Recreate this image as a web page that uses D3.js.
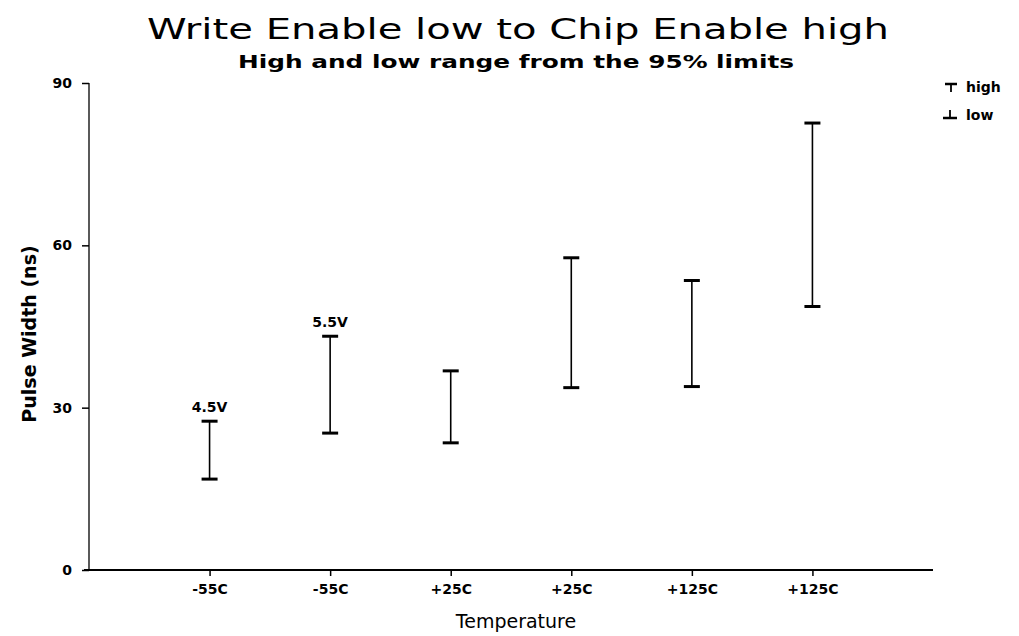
<!DOCTYPE html>
<html><head><meta charset="utf-8">
<script src="https://cdn.jsdelivr.net/npm/d3@7"></script>
<style>body{margin:0;background:#fff}svg{display:block}</style>
</head><body>
<svg id="c" width="1019" height="636"></svg>
<script>
const categories = ["-55C", "-55C", "+25C", "+25C", "+125C", "+125C"];
const highValues = [27.5, 43.2, 36.8, 57.7, 53.5, 82.6];
const lowValues  = [16.8, 25.3, 23.5, 33.7, 33.9, 48.7];
const barLabels  = ["4.5V", "5.5V", "", "", "", ""];
const yTicks = [0, 30, 60, 90];

const svg = d3.select("#c");
const x = d3.scaleLinear().domain([0, categories.length + 1]).range([89, 933]);
const y = d3.scaleLinear().domain([0, 90]).range([570, 83]);

// title
svg.append("text").attr("x", 518).attr("y", 39).attr("text-anchor", "middle")
  .attr("font-family", "DejaVu Sans").attr("font-size", 28)
  .attr("textLength", 742).attr("lengthAdjust", "spacingAndGlyphs")
  .text("Write Enable low to Chip Enable high");
svg.append("text").attr("x", 516).attr("y", 68).attr("text-anchor", "middle")
  .attr("font-family", "DejaVu Sans").attr("font-size", 17).attr("font-weight", "bold")
  .attr("textLength", 556).attr("lengthAdjust", "spacingAndGlyphs")
  .text("High and low range from the 95% limits");

// y axis
const yAxis = d3.axisLeft(y).tickValues(yTicks).tickSize(7).tickPadding(10);
const gy = svg.append("g").attr("transform", "translate(89,0)").call(yAxis);
gy.selectAll("text").attr("font-family", "DejaVu Sans").attr("font-size", 14).attr("font-weight", "bold").attr("fill", "#000");
gy.select(".domain").attr("stroke", "#000").attr("stroke-width", 1.3).attr("d", "M0,83V570");
gy.selectAll("line").attr("stroke", "#000").attr("stroke-width", 1.5);

// x axis
const xAxis = d3.axisBottom(x).tickValues(d3.range(1, categories.length + 1))
  .tickFormat(i => categories[i - 1]).tickSize(6).tickPadding(8);
const gx = svg.append("g").attr("transform", "translate(0,570)").call(xAxis);
gx.selectAll("text").attr("font-family", "DejaVu Sans").attr("font-size", 14).attr("font-weight", "bold").attr("fill", "#000");
gx.select(".domain").attr("stroke", "#000").attr("stroke-width", 1.8).attr("d", "M84,0H933");
gx.selectAll("line").attr("stroke", "#000").attr("stroke-width", 1.5);

// axis titles
svg.append("text").attr("transform", "translate(36,334) rotate(-90)").attr("text-anchor", "middle")
  .attr("font-family", "DejaVu Sans").attr("font-size", 19).attr("font-weight", "bold")
  .text("Pulse Width (ns)");
svg.append("text").attr("x", 516).attr("y", 628).attr("text-anchor", "middle")
  .attr("font-family", "DejaVu Sans").attr("font-size", 19)
  .text("Temperature");

// error bars
const data = categories.map((c, i) => ({i: i + 1, hi: highValues[i], lo: lowValues[i], lab: barLabels[i]}));
const g = svg.append("g");
g.selectAll("line.v").data(data).join("line")
  .attr("x1", d => x(d.i)).attr("x2", d => x(d.i))
  .attr("y1", d => y(d.hi)).attr("y2", d => y(d.lo))
  .attr("stroke", "#000").attr("stroke-width", 1.6);
g.selectAll("line.h").data(data).join("line")
  .attr("x1", d => x(d.i) - 8).attr("x2", d => x(d.i) + 8)
  .attr("y1", d => y(d.hi)).attr("y2", d => y(d.hi))
  .attr("stroke", "#000").attr("stroke-width", 3);
g.selectAll("line.l").data(data).join("line")
  .attr("x1", d => x(d.i) - 8).attr("x2", d => x(d.i) + 8)
  .attr("y1", d => y(d.lo)).attr("y2", d => y(d.lo))
  .attr("stroke", "#000").attr("stroke-width", 3);
g.selectAll("text").data(data.filter(d => d.lab)).join("text")
  .attr("x", d => x(d.i)).attr("y", d => y(d.hi) - 9).attr("text-anchor", "middle")
  .attr("font-family", "DejaVu Sans").attr("font-size", 14).attr("font-weight", "bold")
  .text(d => d.lab);

// legend
const lg = svg.append("g");
lg.append("line").attr("x1", 945).attr("x2", 957).attr("y1", 84).attr("y2", 84).attr("stroke", "#000").attr("stroke-width", 2.5);
lg.append("line").attr("x1", 951).attr("x2", 951).attr("y1", 84).attr("y2", 92).attr("stroke", "#000").attr("stroke-width", 1.8);
lg.append("text").attr("x", 966).attr("y", 92).attr("font-family", "DejaVu Sans").attr("font-size", 14).attr("font-weight", "bold").text("high");
lg.append("line").attr("x1", 943).attr("x2", 957).attr("y1", 118).attr("y2", 118).attr("stroke", "#000").attr("stroke-width", 2.5);
lg.append("line").attr("x1", 950).attr("x2", 950).attr("y1", 110).attr("y2", 118).attr("stroke", "#000").attr("stroke-width", 1.8);
lg.append("text").attr("x", 966).attr("y", 120).attr("font-family", "DejaVu Sans").attr("font-size", 14).attr("font-weight", "bold").text("low");
</script>
</body></html>
